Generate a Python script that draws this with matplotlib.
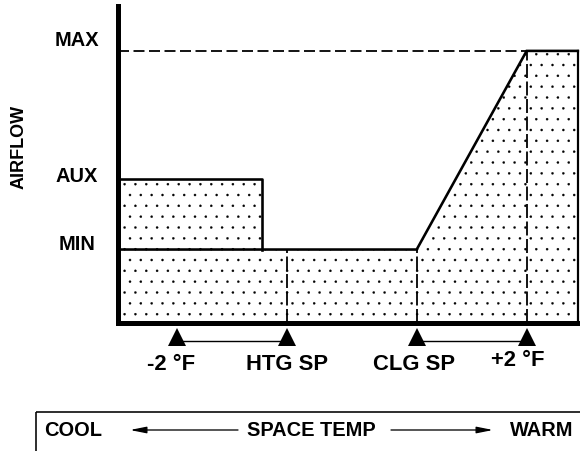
import matplotlib
matplotlib.use("Agg")
import matplotlib.pyplot as plt
import matplotlib.transforms as mtransforms

# ---- data (x in degF relative to heating setpoint, y in % of max airflow)
tick_names = ["-2 °F", "HTG SP", "CLG SP", "+2 °F"]
tick_temps = [-2.0, 0.0, 2.36, 4.36]
aux_end_temp = -0.45
x_left, x_right, x_axis_end = -3.08, 5.29, 5.33
level_names = ["MIN", "AUX", "MAX"]
level_values = [27.0, 53.0, 100.0]
y_top = 116.5

DPI = 65
W, H = 580, 451
def pt(px):
    return px * 72.0 / DPI

plt.rcParams['font.family'] = ['Liberation Sans', 'DejaVu Sans']
plt.rcParams['font.weight'] = 'bold'
plt.rcParams['hatch.linewidth'] = 0.3

fig = plt.figure(figsize=(W / DPI, H / DPI), dpi=DPI)

# overlay axes in pixel coordinates for the annotations
ov = fig.add_axes([0, 0, 1, 1], zorder=0)
ov.set_xlim(0, W)
ov.set_ylim(H, 0)
ov.axis('off')
ov.patch.set_visible(False)

# main axes
L, R, B, T = 117.5, 580, 323, 6
ax = fig.add_axes([L / W, (H - B) / H, (R - L) / W, (B - T) / H], zorder=1)
ax.set_xlim(x_left, x_axis_end)
ax.set_ylim(0, y_top)
ax.patch.set_visible(False)
for s in ['top', 'right']:
    ax.spines[s].set_visible(False)
ax.spines['left'].set_linewidth(pt(5))
ax.spines['bottom'].set_linewidth(pt(5))
ax.spines['left'].set_capstyle('projecting')
ax.spines['bottom'].set_capstyle('projecting')
ax.set_xticks([])
ax.set_yticks([])

y_min, y_aux, y_max = level_values
x_m2, x_htg, x_clg, x_p2 = tick_temps

# stippled fill
fx = [x_left, x_left, aux_end_temp, aux_end_temp, x_clg, x_p2, x_right, x_right]
fy = [0, y_aux, y_aux, y_min, y_min, y_max, y_max, 0]
ax.fill(fx, fy, facecolor='white', edgecolor='black', hatch='.', linewidth=0, zorder=1)

lw_main = pt(2.6)
# AUX box
ax.plot([x_left, aux_end_temp, aux_end_temp], [y_aux, y_aux, y_min], color='black', lw=lw_main, zorder=3)
# MIN line and ramp to MAX
ax.plot([x_left, x_clg, x_p2, x_right], [y_min, y_min, y_max, y_max], color='black', lw=lw_main,
        zorder=3, solid_joinstyle='miter')
# right edge
ax.plot([x_right, x_right], [y_max, 0], color='black', lw=pt(2.2), zorder=3)
# MAX dashed
ax.plot([x_left, x_p2], [y_max, y_max], color='black', lw=pt(1.8), dashes=(pt(11) / pt(1.8), pt(4.5) / pt(1.8)), zorder=2)
# vertical dashed lines
for xv, ytop in [(x_htg, y_min), (x_clg, y_min), (x_p2, y_max)]:
    ax.plot([xv, xv], [0, ytop], color='black', lw=pt(1.8), dashes=(pt(14) / pt(1.8), pt(3.5) / pt(1.8)), zorder=2)

# triangles and ticks below axis (x in data, y in pixels)
bt = mtransforms.blended_transform_factory(ax.transData, ov.transData)
ax.plot(tick_temps, [336.5] * len(tick_temps), transform=bt, ls='none', marker='^',
        markersize=pt(18), color='black', markeredgewidth=0, clip_on=False, zorder=5)
for a, b in [(x_m2, x_htg), (x_clg, x_p2)]:
    ax.plot([a, b], [341, 341], transform=bt, color='black', lw=pt(1.4), clip_on=False, zorder=4)

label_dx = [-6, 0, -3, -9]
label_y = [365, 365, 365, 360]
for name, xv, dx, yv in zip(tick_names, tick_temps, label_dx, label_y):
    ax.annotate(name, xy=(xv, yv), xycoords=bt, xytext=(pt(dx), 0), textcoords='offset points',
                ha='center', va='center', fontsize=pt(22), fontweight='bold', annotation_clip=False)

# level labels
yt = mtransforms.blended_transform_factory(ov.transData, ax.transData)
level_dy = [5, 2, 10]
for name, yv, dy in zip(level_names, level_values, level_dy):
    ax.annotate(name, xy=(77, yv), xycoords=yt, xytext=(0, pt(dy)), textcoords='offset points',
                ha='center', va='center', fontsize=pt(20), fontweight='bold', annotation_clip=False)

ov.text(19, 147, "AIRFLOW", rotation=90, ha='center', va='center', fontsize=pt(18), fontweight='bold')

# bottom box
ov.plot([36, 580], [412, 412], color='black', lw=pt(1.6), solid_capstyle='butt')
ov.plot([36, 36], [412, 451], color='black', lw=pt(1.6), solid_capstyle='butt')
ov.text(73, 430, "COOL", ha='center', va='center', fontsize=pt(20), fontweight='bold')
ov.text(311, 430, "SPACE TEMP", ha='center', va='center', fontsize=pt(20), fontweight='bold')
ov.text(542, 430, "WARM", ha='center', va='center', fontsize=pt(20), fontweight='bold')
ap = dict(arrowstyle='-|>,head_length=1.5,head_width=0.3', color='black', lw=pt(1.3),
          mutation_scale=10, shrinkA=0, shrinkB=0)
ov.annotate("", xy=(130, 430), xytext=(238, 430), arrowprops=ap)
ov.annotate("", xy=(493, 430), xytext=(391, 430), arrowprops=ap)

fig.savefig("out.png", dpi=DPI)
